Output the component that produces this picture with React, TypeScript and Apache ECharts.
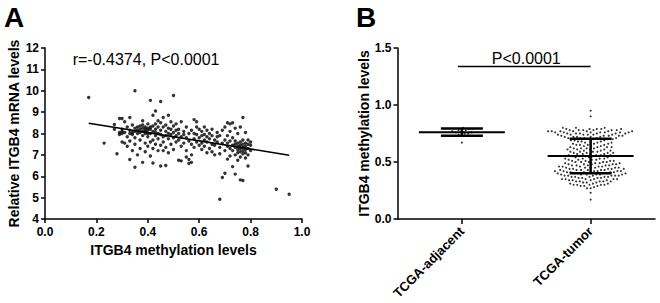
import React, { useEffect, useRef } from "react";
import * as echarts from "echarts";

const FONT = '"Liberation Sans", Arial, Helvetica, sans-serif';

// Panel A: [ITGB4 methylation level, relative ITGB4 mRNA level]
const scatterPoints: [number, number][] = [
  [0.17, 9.68], [0.23, 7.55], [0.27, 8.42], [0.27, 8.2], [0.28, 7.05], [0.29, 8.7], [0.29, 8.05], [0.29, 7.95],
  [0.3, 8.0], [0.3, 8.1], [0.3, 8.7], [0.3, 7.6], [0.3, 8.2],
  [0.31, 8.55], [0.31, 7.55], [0.31, 8.05], [0.32, 7.85], [0.32, 8.3], [0.32, 7.4], [0.33, 8.0], [0.33, 8.75],
  [0.33, 7.65], [0.33, 6.78], [0.33, 8.15], [0.34, 8.4], [0.34, 7.2], [0.34, 8.05], [0.34, 7.95], [0.35, 10.0],
  [0.35, 8.25], [0.35, 7.8], [0.35, 6.42], [0.35, 8.1], [0.35, 7.5], [0.36, 8.15], [0.36, 8.3], [0.36, 7.0],
  [0.36, 8.0], [0.37, 8.2], [0.37, 7.7], [0.37, 8.35], [0.37, 7.3], [0.37, 8.05], [0.38, 8.25], [0.38, 8.1],
  [0.38, 6.65], [0.38, 7.9], [0.38, 8.6], [0.38, 8.4], [0.39, 8.2], [0.39, 7.55], [0.39, 8.0], [0.39, 8.3],
  [0.39, 7.15], [0.39, 8.1], [0.4, 8.25], [0.4, 7.85], [0.4, 8.45], [0.4, 8.15], [0.4, 7.4], [0.4, 8.0],
  [0.41, 9.55], [0.41, 8.3], [0.41, 8.0], [0.41, 7.6], [0.41, 8.2], [0.41, 6.95], [0.42, 8.85], [0.42, 8.35],
  [0.42, 7.7], [0.42, 8.1], [0.42, 7.3], [0.42, 6.62], [0.43, 9.05], [0.43, 8.2], [0.43, 7.9], [0.43, 8.45],
  [0.43, 7.5], [0.43, 8.05], [0.44, 8.3], [0.44, 7.2], [0.44, 7.75], [0.44, 8.6], [0.44, 8.0], [0.45, 9.5],
  [0.45, 8.15], [0.45, 7.45], [0.45, 6.48], [0.45, 7.95], [0.45, 8.5], [0.46, 8.75], [0.46, 7.6], [0.46, 8.3],
  [0.46, 7.2], [0.46, 7.85], [0.47, 8.4], [0.47, 6.5], [0.47, 7.9], [0.47, 8.1], [0.47, 7.35], [0.48, 8.85],
  [0.48, 7.75], [0.48, 8.25], [0.48, 7.1], [0.48, 8.0], [0.49, 8.55], [0.49, 7.5], [0.49, 7.95], [0.49, 8.2],
  [0.5, 9.78], [0.5, 7.8], [0.5, 8.35], [0.5, 7.25], [0.5, 8.05],
  [0.51, 8.15], [0.51, 7.6], [0.51, 8.45], [0.51, 7.9], [0.52, 7.7], [0.52, 8.2], [0.52, 6.75], [0.52, 8.0],
  [0.53, 8.55], [0.53, 7.4], [0.53, 7.85], [0.53, 6.72], [0.54, 8.1], [0.54, 7.55], [0.54, 7.95], [0.55, 7.2],
  [0.55, 8.3], [0.55, 7.8], [0.55, 6.9], [0.56, 7.65], [0.56, 8.0], [0.56, 6.6], [0.56, 6.78], [0.57, 7.5],
  [0.57, 8.15], [0.57, 7.0], [0.57, 6.65], [0.58, 8.65], [0.58, 7.75], [0.58, 8.0], [0.58, 7.35], [0.59, 8.55],
  [0.59, 7.6], [0.59, 7.95], [0.59, 8.3], [0.6, 7.8], [0.6, 7.45], [0.6, 8.2],
  [0.61, 7.9], [0.61, 7.55], [0.61, 8.1], [0.61, 7.25], [0.62, 7.7], [0.62, 7.95], [0.62, 8.3], [0.62, 7.4],
  [0.63, 7.6], [0.63, 7.85], [0.63, 7.1], [0.63, 8.15], [0.64, 7.75], [0.64, 7.3], [0.64, 8.0], [0.65, 7.5],
  [0.65, 7.9], [0.65, 7.15], [0.65, 8.2], [0.66, 7.7], [0.66, 7.0], [0.66, 7.45], [0.67, 7.85], [0.67, 7.6],
  [0.67, 8.05], [0.68, 4.92], [0.68, 7.35], [0.68, 7.9], [0.68, 7.05], [0.69, 7.55], [0.69, 8.15], [0.69, 5.94],
  [0.7, 6.14], [0.7, 7.7], [0.7, 8.3], [0.7, 7.2],
  [0.71, 8.5], [0.71, 7.4], [0.71, 7.9], [0.71, 6.8], [0.71, 7.55], [0.72, 8.45], [0.72, 7.3], [0.72, 7.65],
  [0.72, 8.1], [0.72, 6.95], [0.73, 8.5], [0.73, 6.45], [0.73, 7.45], [0.73, 7.8], [0.73, 7.2], [0.74, 6.1],
  [0.74, 7.5], [0.74, 8.25], [0.74, 7.35], [0.74, 7.0], [0.74, 7.65], [0.75, 7.4], [0.75, 7.25], [0.75, 7.55],
  [0.75, 8.0], [0.75, 6.75], [0.75, 7.1], [0.76, 5.83], [0.76, 7.45], [0.76, 7.3], [0.76, 7.6], [0.76, 6.9],
  [0.76, 8.3], [0.76, 7.15], [0.77, 8.75], [0.77, 5.8], [0.77, 7.35], [0.77, 7.5], [0.77, 7.2], [0.77, 7.05],
  [0.77, 7.7], [0.78, 7.4], [0.78, 7.25], [0.78, 6.85], [0.78, 7.55], [0.78, 7.1], [0.78, 8.05], [0.79, 7.3],
  [0.79, 6.48], [0.79, 7.5], [0.79, 7.0], [0.79, 7.7], [0.8, 7.45], [0.8, 7.2], [0.8, 7.6],
  [0.9, 5.39], [0.95, 5.16],
];

// Regression line
const fitSlope = -1.92;
const fitIntercept = 8.81;
const corrLabel = "r=-0.4374, P<0.0001";

// Panel B
const groups = ["TCGA-adjacent", "TCGA-tumor"];
const adjacentValues = [0.67, 0.73, 0.74, 0.75, 0.75, 0.76, 0.76, 0.77, 0.77, 0.78, 0.78, 0.79, 0.79, 0.8];
const tumorValues = scatterPoints.map((p) => p[0]);
const groupMeans = [0.762, 0.553];
const groupSDs = [0.031, 0.151];
const pLabel = "P<0.0001";
const bracketLevel = 1.338;

const GRID_B_H = 171;
const B_MAX = 1.5;

function beeswarm(values: number[], pxPerUnit: number, d: number): number[] {
  const idx = values.map((_, i) => i).sort((a, b) => values[a] - values[b]);
  const placed: { x: number; y: number }[] = [];
  const out: number[] = new Array(values.length).fill(0);
  for (const i of idx) {
    const y = values[i] * pxPerUnit;
    const intervals: [number, number][] = [];
    for (const p of placed) {
      const dy = Math.abs(p.y - y);
      if (dy < d) {
        const w = Math.sqrt(d * d - dy * dy);
        intervals.push([p.x - w, p.x + w]);
      }
    }
    const cands = [0];
    for (const [a, b] of intervals) cands.push(a, b);
    cands.sort((a, b) => Math.abs(a) - Math.abs(b) || a - b);
    let best = 0;
    for (const c of cands) {
      if (intervals.every(([a, b]) => c <= a + 1e-6 || c >= b - 1e-6)) {
        best = c;
        break;
      }
    }
    placed.push({ x: best, y });
    out[i] = best;
  }
  return out;
}

export default function App() {
  const ref = useRef<HTMLDivElement>(null);
  useEffect(() => {
    document.body.style.margin = "0";
    if (!ref.current) return;
    const chart = echarts.init(ref.current, undefined, { renderer: "svg" });
    const pxPerUnit = GRID_B_H / B_MAX;
    const adjDx = beeswarm(adjacentValues, pxPerUnit, 3.6);
    const tumDx = beeswarm(tumorValues, pxPerUnit, 3.6);
    const swarmData = [
      ...adjacentValues.map((v, i) => [0, v, adjDx[i]]),
      ...tumorValues.map((v, i) => [1, v, tumDx[i]]),
    ];
    const xs = scatterPoints.map((p) => p[0]);
    const xMin = Math.min(...xs);
    const xMax = Math.max(...xs);
    const fitData = [
      [xMin, fitIntercept + fitSlope * xMin],
      [xMax, fitIntercept + fitSlope * xMax],
    ];

    const axisLine = { show: true, lineStyle: { color: "#000", width: 1.5 } };
    const axisTick = { show: true, length: 4, lineStyle: { color: "#000", width: 1.5 } };
    const tickLabel = { color: "#000", fontFamily: FONT, fontWeight: "bold" as const, fontSize: 12 };
    const nameStyle = { color: "#000", fontFamily: FONT, fontWeight: "bold" as const, fontSize: 14 };

    chart.setOption({
      animation: false,
      backgroundColor: "#fff",
      grid: [
        { left: 45, top: 48, width: 257, height: 171 },
        { left: 397.5, top: 48, width: 257.5, height: GRID_B_H },
      ],
      xAxis: [
        {
          type: "value",
          gridIndex: 0,
          min: 0,
          max: 1,
          interval: 0.2,
          axisLine,
          axisTick,
          splitLine: { show: false },
          axisLabel: { ...tickLabel, margin: 7, formatter: (v: number) => v.toFixed(1) },
          name: "ITGB4 methylation levels",
          nameLocation: "middle",
          nameGap: 24,
          nameTextStyle: nameStyle,
        },
        {
          type: "category",
          gridIndex: 1,
          data: groups,
          boundaryGap: true,
          axisLine,
          axisTick: { ...axisTick, length: 5, alignWithLabel: true, interval: 0 },
          splitLine: { show: false },
          axisLabel: { ...tickLabel, fontSize: 13, rotate: 45, margin: 10, interval: 0 },
        },
      ],
      yAxis: [
        {
          type: "value",
          gridIndex: 0,
          min: 4,
          max: 12,
          interval: 1,
          axisLine,
          axisTick,
          splitLine: { show: false },
          axisLabel: { ...tickLabel, margin: 6 },
          name: "Relative ITGB4 mRNA levels",
          nameLocation: "middle",
          nameGap: 24,
          nameTextStyle: nameStyle,
        },
        {
          type: "value",
          gridIndex: 1,
          min: 0,
          max: B_MAX,
          interval: 0.5,
          axisLine,
          axisTick,
          splitLine: { show: false },
          axisLabel: { ...tickLabel, margin: 6, formatter: (v: number) => v.toFixed(1) },
          name: "ITGB4 methylation levels",
          nameLocation: "middle",
          nameGap: 22,
          nameTextStyle: nameStyle,
        },
      ],
      graphic: [
        {
          type: "text",
          left: 4,
          top: 3,
          style: { text: "A", font: `bold 28px ${FONT}`, fill: "#000" },
        },
        {
          type: "text",
          left: 356,
          top: 3,
          style: { text: "B", font: `bold 28px ${FONT}`, fill: "#000" },
        },
        {
          type: "text",
          x: 72.7,
          y: 59,
          style: {
            text: corrLabel,
            font: `16px ${FONT}`,
            fill: "#000",
            verticalAlign: "middle",
          },
        },
      ],
      series: [
        {
          type: "scatter",
          xAxisIndex: 0,
          yAxisIndex: 0,
          data: scatterPoints,
          symbol: "circle",
          symbolSize: 3.4,
          itemStyle: { color: "#000" },
          z: 2,
        },
        {
          type: "line",
          xAxisIndex: 0,
          yAxisIndex: 0,
          data: fitData,
          showSymbol: false,
          symbol: "none",
          lineStyle: { color: "#000", width: 1.5 },
          z: 3,
        },
        {
          type: "custom",
          xAxisIndex: 1,
          yAxisIndex: 1,
          data: swarmData,
          z: 2,
          renderItem: (_params: any, api: any) => {
            const c = api.coord([api.value(0), api.value(1)]);
            return {
              type: "circle",
              shape: { cx: c[0] + api.value(2), cy: c[1], r: 1.05 },
              style: { fill: "#333" },
            };
          },
        },
        {
          type: "custom",
          xAxisIndex: 1,
          yAxisIndex: 1,
          data: groupMeans.map((m, i) => [i, m, groupSDs[i]]),
          z: 4,
          renderItem: (_params: any, api: any) => {
            const cat = api.value(0);
            const m = api.value(1);
            const sd = api.value(2);
            const cm = api.coord([cat, m]);
            const ct = api.coord([cat, m + sd]);
            const cb = api.coord([cat, m - sd]);
            const x = cm[0];
            const ls = { stroke: "#000", lineWidth: 2 };
            return {
              type: "group",
              children: [
                { type: "line", shape: { x1: x - 43, y1: cm[1], x2: x + 43, y2: cm[1] }, style: ls },
                { type: "line", shape: { x1: x, y1: ct[1], x2: x, y2: cb[1] }, style: { stroke: "#000", lineWidth: 2.5 } },
                { type: "line", shape: { x1: x - 21, y1: ct[1], x2: x + 21, y2: ct[1] }, style: { stroke: "#000", lineWidth: 2.5 } },
                { type: "line", shape: { x1: x - 21, y1: cb[1], x2: x + 21, y2: cb[1] }, style: { stroke: "#000", lineWidth: 2.5 } },
              ],
            };
          },
        },
        {
          type: "custom",
          xAxisIndex: 1,
          yAxisIndex: 1,
          data: [[0, 1, bracketLevel]],
          z: 4,
          renderItem: (_params: any, api: any) => {
            const a = api.coord([api.value(0), api.value(2)]);
            const b = api.coord([api.value(1), api.value(2)]);
            return {
              type: "group",
              children: [
                {
                  type: "line",
                  shape: { x1: a[0] - 4, y1: a[1], x2: b[0], y2: b[1] },
                  style: { stroke: "#000", lineWidth: 1.5 },
                },
                {
                  type: "text",
                  x: (a[0] + b[0]) / 2,
                  y: a[1] - 8,
                  style: {
                    text: pLabel,
                    font: `16px ${FONT}`,
                    fill: "#000",
                    align: "center",
                    verticalAlign: "middle",
                  },
                },
              ],
            };
          },
        },
      ],
    });
    return () => chart.dispose();
  }, []);
  return <div ref={ref} style={{ width: 660, height: 303 }} />;
}
